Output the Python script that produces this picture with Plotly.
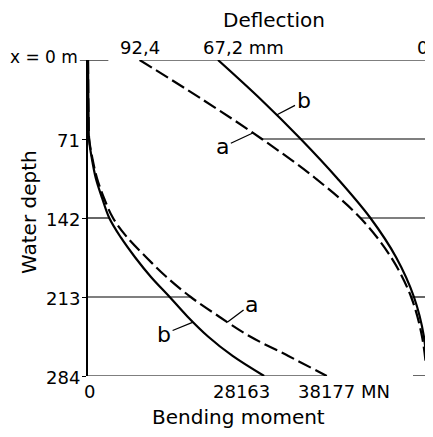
import numpy as np
import plotly.graph_objects as go

# water depth (m) for the deflection curves
depth = [0, 35.5, 71, 106.5, 142, 177.5, 213, 248.5, 284]
depth_ticks = [71, 142, 213, 284]

# deflection (mm): a = dashed, b = solid
defl_a = [92.4, 72.2, 53.1, 35.8, 21.4, 11.5, 5.1, 1.6, 0]
defl_b = [67.2, 53.4, 40.6, 28.8, 18.2, 9.9, 4.2, 1.0, 0]

# water depth (m) for the bending moment curves
depth_m = [0, 35.5, 53, 71, 89, 106.5, 124, 142, 159.5, 177.5, 195, 213, 230.5, 248.5, 266, 284]

# bending moment (MN): a = dashed, b = solid
mom_a = [0, 50, 95, 190, 720, 1450, 2550, 4000, 6280, 9340, 12560, 16420, 20930, 25920, 32040, 38177]
mom_b = [0, 50, 95, 160, 630, 1260, 2250, 3400, 5250, 7550, 10070, 13060, 15890, 19190, 23120, 28163]

FONT = "DejaVu Sans"
DASH = "14px,5px"

fig = go.Figure()
fig.add_trace(go.Scatter(x=defl_a, y=depth, xaxis="x2", mode="lines", line_shape="spline",
                         line=dict(color="black", width=2.2, dash=DASH)))
fig.add_trace(go.Scatter(x=defl_b, y=depth, xaxis="x2", mode="lines", line_shape="spline",
                         line=dict(color="black", width=2.2)))
fig.add_trace(go.Scatter(x=mom_a, y=depth_m, mode="lines", line_shape="spline",
                         line=dict(color="black", width=2.2, dash=DASH)))
fig.add_trace(go.Scatter(x=mom_b, y=depth_m, mode="lines", line_shape="spline",
                         line=dict(color="black", width=2.2)))

# frame pieces and horizontal lines drawn only up to the curves
thin = dict(color="black", width=1.2)
fig.add_shape(type="line", xref="x2", yref="y", x0=defl_a[0], x1=0, y0=0, y1=0, line=thin)
fig.add_shape(type="line", xref="paper", yref="y", x0=-0.024, x1=0.06, y0=0, y1=0, line=thin)
fig.add_shape(type="line", xref="x", yref="y", x0=0, x1=mom_a[-1], y0=284, y1=284, line=thin)
fig.add_shape(type="line", xref="x2", yref="y", x0=4.5, x1=0, y0=284, y1=284, line=thin)
for t in depth_ticks[:-1]:
    fig.add_shape(type="line", xref="x2", yref="y", x0=float(np.interp(t, depth, defl_a)), x1=0,
                  y0=t, y1=t, line=thin)
fig.add_shape(type="line", xref="x", yref="y", x0=0, x1=float(np.interp(142, depth_m, mom_b)),
              y0=142, y1=142, line=thin)
fig.add_shape(type="line", xref="x", yref="y", x0=0, x1=float(np.interp(213, depth_m, mom_a)),
              y0=213, y1=213, line=thin)


def txt(text, x, y, xref="paper", yref="paper", size=18, **kw):
    kw.setdefault("xanchor", "center")
    fig.add_annotation(text=text, x=x, y=y, xref=xref, yref=yref, showarrow=False,
                       yanchor="middle", font=dict(family=FONT, size=size, color="black"), **kw)


txt("Deflection", 0.548, 1.127, size=20)
txt("92,4", defl_a[0], 1.041, xref="x2")
txt("67,2 mm", defl_b[0], 1.041, xref="x2", xanchor="left", xshift=-17)
txt("0", 0, 1.041, xref="x2", xanchor="right", xshift=3)
txt("x = 0 m", -0.024, 1.008, xanchor="right", size=17)
for t in depth_ticks:
    txt(str(t), -0.017, t, yref="y", xanchor="right", yshift=-1)
txt("0", 0, -0.05, xref="x", xshift=1)
txt("28163", mom_b[-1], -0.05, xref="x", xanchor="right", xshift=8)
txt("38177 MN", mom_a[-1], -0.05, xref="x", xanchor="left", xshift=-31)
txt("Bending moment", 0.445, -0.13, size=20)
txt("Water depth", -0.176, 0.52, textangle=-90, size=20)


def tag(text, xref, xs, ys, d, ax, ay):
    fig.add_annotation(text=text, xref=xref, yref="y", x=float(np.interp(d, ys, xs)), y=d,
                       ax=ax, ay=ay, showarrow=True, arrowhead=0, arrowwidth=1.3,
                       arrowcolor="black", standoff=0,
                       font=dict(family=FONT, size=22, color="black"))


tag("b", "x2", defl_b, depth, 49.4, 27, -14)
tag("a", "x2", defl_a, depth, 65.6, -30, 14)
tag("a", "x", mom_a, depth_m, 235.5, 24, -18)
tag("b", "x", mom_b, depth_m, 235.5, -29, 12)

# the page adds an 8px body margin, so the figure is 8px smaller than the window
fig.update_layout(
    width=425, height=429,
    margin=dict(l=80, r=4, t=52, b=61),
    paper_bgcolor="white", plot_bgcolor="white",
    showlegend=False,
    xaxis=dict(range=[0, 54200], visible=False),
    xaxis2=dict(range=[109, 0], overlaying="x", side="top", visible=False),
    yaxis=dict(range=[284, 0], tickvals=depth_ticks, showticklabels=False,
               ticks="outside", ticklen=4, tickwidth=1.2, tickcolor="black",
               showline=True, linewidth=2, linecolor="black", mirror=True,
               showgrid=False, zeroline=False),
)

fig.write_html("out.html")
